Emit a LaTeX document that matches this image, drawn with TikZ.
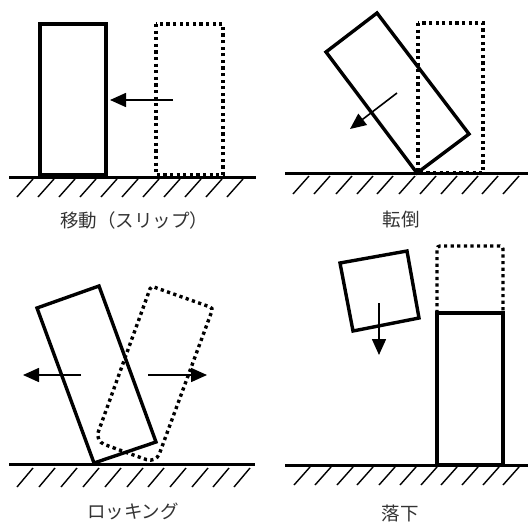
\documentclass[tikz,border=0pt]{standalone}
\usepackage{fontspec}
\newfontfamily\jp{Noto Sans CJK JP}
\usetikzlibrary{arrows.meta}
\begin{document}
\begin{tikzpicture}[x=1pt,y=-1pt,
  body/.style={line width=3.4pt, line join=miter},
  ghost/.style={line width=3.4pt, dash pattern=on 3.2pt off 3.4pt},
  ground/.style={line width=3pt},
  hatch/.style={line width=1.4pt},
  move/.style={line width=1.6pt, -{Triangle[length=16pt,width=14pt]}},
  lbl/.style={font=\jp\fontsize{18.5}{19}\selectfont, text=black!80}]
\useasboundingbox (0,0) rectangle (528,523);

% Panel 1: slip
\draw[ghost] (156,24) rectangle (223,175);
\draw[body] (40,24) rectangle (106,175);
\draw[ground] (9,177) -- (256,177);
\foreach \x in {17,38,59,80,101,122,143,164,185,206,227}
  \draw[hatch] (\x,197) -- ++(16,-18);
\coordinate (a1s) at (173,100);
\coordinate (a1e) at (110,100);
\draw[move] (a1s) -- (a1e);
\node[lbl] (l1) at (134,220) {移動（スリップ）};

% Panel 2: overturn
\draw[ghost] (418,23) rectangle (483,173);
\draw[body] (417,173) -- (469,134) -- (377,13) -- (326,52) -- cycle;
\draw[ground] (285,173) -- (528,173);
\foreach \x in {293,314,336,357,377,399,420,441,462,482,503}
  \draw[hatch] (\x,194) -- ++(16,-18);
\coordinate (a2s) at (397,93);
\coordinate (a2e) at (350,129);
\draw[move] (a2s) -- (a2e);
\node[lbl] (l2) at (401,219) {転倒};

% Panel 3: rocking
\draw[ghost] (125,452) [rounded corners=10pt] -- (95,441) [rounded corners=3pt] -- (151,286) -- (213,308) [rounded corners=10pt] -- (156,463) -- cycle;
\draw[body] (94,463) -- (156,442) -- (99,286) -- (37,308) -- cycle;
\draw[ground] (9,464) -- (255,464);
\foreach \x in {17,39,61,83,105,127,148,170,192,213,234}
  \draw[hatch] (\x,487) -- ++(16,-19);
\coordinate (a3s) at (81,375);
\coordinate (a3e) at (23,375);
\coordinate (a4s) at (148,375);
\coordinate (a4e) at (207,375);
\draw[move] (a3s) -- (a3e);
\draw[move] (a4s) -- (a4e);
\node[lbl] (l3) at (133,511) {ロッキング};

% Panel 4: fall
\draw[ghost, rounded corners=3pt] (437,313) -- (437,246) -- (503,246) -- (503,313);
\draw[body] (437,465) rectangle (503,313);
\draw[body] (340,263) -- (407,251) -- (419,318) -- (353,331) -- cycle;
\draw[ground] (285,465) -- (528,465);
\foreach \x in {294,315,337,357,379,400,421,441,462,483,503}
  \draw[hatch] (\x,485) -- ++(16,-18);
\coordinate (a5s) at (379,303);
\coordinate (a5e) at (379,355);
\draw[move] (a5s) -- (a5e);
\node[lbl] (l4) at (400,513) {落下};
\end{tikzpicture}
\end{document}
